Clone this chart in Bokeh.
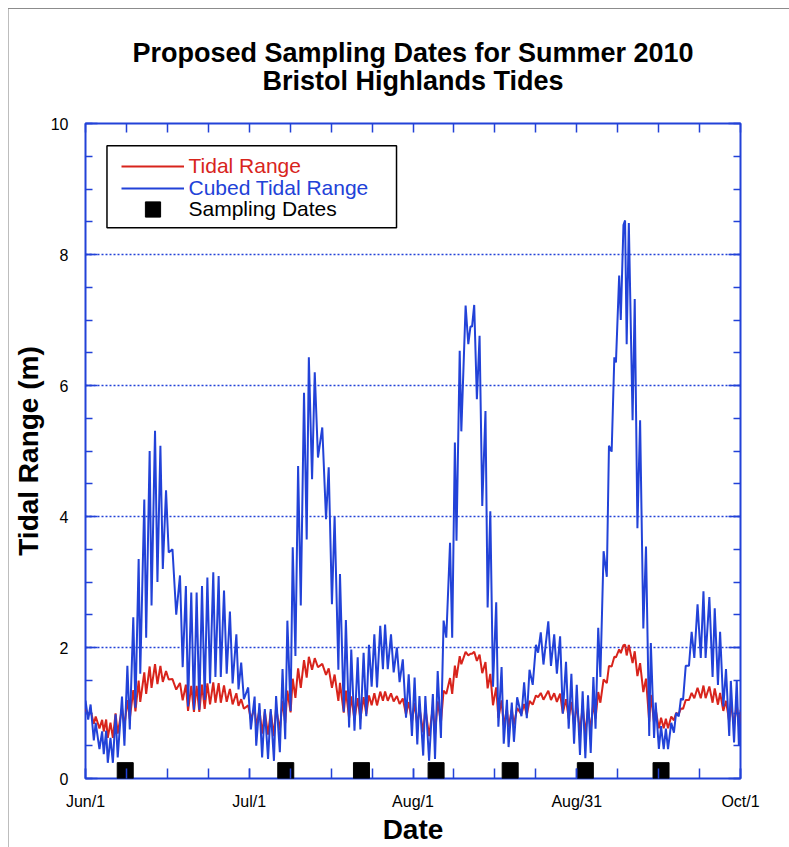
import numpy as np
from bokeh.plotting import figure
from bokeh.models import (Range1d, FixedTicker, LinearAxis, Legend, LegendItem,
                          BoxAnnotation, Title)
from bokeh.embed import file_html
from bokeh.resources import INLINE

BLUE = "#2242d8"
RED = "#d8241c"
FONT = "Liberation Sans"

# ---------------- data (days after Jun 1, 2010) ----------------
tide_day = [
    0.0, 0.5, 0.95, 1.55, 1.9, 2.6, 3.1, 3.4, 3.85, 4.15,
    4.65, 5.1, 5.6, 6.0, 6.8, 7.25, 7.8, 8.25, 8.9, 9.3,
    9.9, 10.2, 10.95, 11.3, 11.95, 12.3, 12.95, 13.4, 13.95, 14.4,
    15.0, 15.5, 16.2, 16.9, 17.6, 18.1, 18.7, 19.1, 19.7, 20.2,
    20.7, 21.2, 21.7, 22.2, 22.7, 23.2, 23.8, 24.2, 24.8, 25.2,
    25.8, 26.3, 26.9, 27.4, 28.1, 28.5, 29.0, 29.5, 30.3, 30.8,
    31.5, 31.8, 32.4, 32.9, 33.4, 34.0, 34.5, 35.1, 35.5, 36.2,
    36.7, 37.2, 37.6, 38.2, 38.6, 39.1, 39.6, 40.1, 40.7, 41.2,
    41.6, 42.2, 42.7, 43.3, 44.1, 44.8, 45.3, 45.9, 46.4, 47.1,
    47.4, 48.1, 48.5, 49.1, 49.5, 50.1, 50.7, 51.2, 51.8, 52.3,
    52.8, 53.3, 53.8, 54.3, 54.9, 55.4, 55.8, 56.3, 56.9, 57.4,
    58.0, 58.5, 59.1, 59.7, 60.2, 60.8, 61.3, 61.8, 62.2, 62.9,
    63.3, 64.0, 64.7, 65.1, 65.6, 66.2, 66.7, 67.2, 67.9, 68.3,
    68.8, 69.1, 69.7, 70.0, 70.8, 71.3, 71.7, 72.0, 72.4, 72.9,
    73.4, 73.9, 74.5, 74.9, 75.4, 75.9, 76.5, 76.9, 77.5, 77.9,
    78.5, 78.8, 79.4, 79.8, 80.4, 81.2, 81.7, 82.2, 82.7, 83.3,
    83.9, 84.3, 84.8, 85.3, 86.2, 86.7, 87.3, 87.8, 88.4, 88.9,
    89.5, 90.0, 90.5, 91.0, 91.5, 92.1, 92.6, 93.1, 93.6, 94.1,
    94.6, 95.0, 95.5, 95.9, 96.5, 97.1, 97.5, 98.0, 98.5, 98.8,
    99.4, 99.7, 100.2, 100.5, 100.8, 101.2, 101.9, 102.3, 102.8, 103.3,
    103.9, 104.4, 105.0, 105.3, 105.9, 106.2, 106.8, 107.2, 107.7, 108.1,
    108.5, 109.1, 109.6, 110.0, 110.5, 110.9, 111.3, 111.8, 112.4, 112.9,
    113.4, 114.0, 114.6, 115.1, 115.5, 116.2, 116.8, 117.2, 117.8, 118.2,
    118.8, 119.3, 119.9, 120.2, 120.8, 121.3, 121.7, 122.0,
]

cubed_range = [
    1.19, 0.90, 1.13, 0.58, 0.85, 0.45, 0.72, 0.37, 0.73, 0.24,
    0.62, 0.24, 0.98, 0.32, 1.25, 0.50, 1.72, 0.75, 2.46, 1.08,
    3.35, 1.60, 4.26, 2.15, 5.00, 2.64, 5.31, 3.00, 5.08, 3.20,
    4.40, 3.45, 3.50, 2.50, 3.10, 1.70, 2.94, 1.10, 2.84, 1.05,
    2.84, 1.05, 2.94, 1.20, 3.07, 1.45, 3.15, 1.55, 3.09, 1.55,
    2.87, 1.60, 2.55, 1.45, 2.20, 1.36, 1.77, 1.21, 1.39, 0.75,
    1.25, 0.50, 1.15, 0.32, 1.06, 0.30, 1.06, 0.27, 1.26, 0.40,
    1.67, 0.60, 2.41, 1.03, 3.53, 1.87, 4.77, 2.64, 5.89, 3.65,
    6.43, 4.57, 6.20, 4.90, 5.36, 3.96, 4.75, 2.66, 4.00, 1.66,
    3.12, 1.02, 2.42, 0.78, 1.97, 0.73, 1.85, 0.75, 1.92, 0.95,
    2.04, 1.40, 2.20, 1.39, 2.33, 1.67, 2.35, 1.67, 2.20, 1.62,
    2.00, 1.47, 1.82, 0.93, 1.59, 0.65, 1.54, 0.52, 1.26, 0.35,
    1.26, 0.27, 1.29, 0.30, 1.64, 0.62, 2.41, 2.15, 3.60, 2.15,
    5.13, 3.63, 6.53, 5.30, 7.22, 6.63, 6.90, 6.90, 7.23, 5.79,
    6.76, 4.16, 5.61, 2.61, 4.08, 1.40, 2.69, 0.79, 1.70, 0.53,
    1.20, 0.48, 1.16, 0.56, 1.24, 0.95, 1.47, 0.92, 1.66, 1.43,
    2.04, 1.92, 2.23, 1.74, 2.40, 1.72, 2.20, 1.60, 2.17, 0.99,
    1.78, 0.76, 1.60, 0.53, 1.43, 0.36, 1.33, 0.31, 1.27, 0.39,
    1.55, 0.76, 2.30, 1.55, 3.47, 3.08, 5.08, 4.99, 6.43, 6.35,
    7.68, 7.00, 8.45, 8.52, 6.63, 8.48, 5.47, 7.32, 3.82, 5.47,
    2.29, 3.54, 0.65, 2.07, 0.62, 1.16, 0.45, 0.80, 0.45, 0.76,
    0.45, 0.85, 0.70, 1.00, 0.95, 1.22, 1.20, 1.72, 1.72, 2.24,
    1.84, 2.66, 1.84, 2.86, 1.84, 2.77, 1.55, 2.60, 1.43, 2.24,
    1.10, 1.67, 0.65, 1.49, 0.55, 1.49, 0.50, 1.05,
]

tidal_range = [
    1.060, 0.965, 1.041, 0.834, 0.947, 0.766, 0.896, 0.718, 0.900, 0.621,
    0.853, 0.621, 0.993, 0.684, 1.077, 0.794, 1.198, 0.909, 1.350, 1.026,
    1.496, 1.170, 1.621, 1.291, 1.710, 1.382, 1.745, 1.442, 1.719, 1.474,
    1.639, 1.511, 1.518, 1.357, 1.458, 1.193, 1.432, 1.032, 1.416, 1.016,
    1.416, 1.016, 1.432, 1.063, 1.453, 1.132, 1.466, 1.157, 1.456, 1.157,
    1.421, 1.170, 1.366, 1.132, 1.301, 1.108, 1.210, 1.066, 1.116, 0.909,
    1.077, 0.794, 1.048, 0.684, 1.020, 0.669, 1.020, 0.646, 1.080, 0.737,
    1.186, 0.843, 1.341, 1.010, 1.523, 1.232, 1.683, 1.382, 1.806, 1.540,
    1.859, 1.659, 1.837, 1.698, 1.750, 1.582, 1.681, 1.386, 1.587, 1.184,
    1.461, 1.007, 1.342, 0.921, 1.254, 0.900, 1.228, 0.909, 1.243, 0.983,
    1.268, 1.119, 1.301, 1.116, 1.326, 1.186, 1.329, 1.186, 1.301, 1.175,
    1.260, 1.137, 1.221, 0.976, 1.167, 0.866, 1.155, 0.804, 1.080, 0.705,
    1.080, 0.646, 1.089, 0.669, 1.179, 0.853, 1.341, 1.291, 1.533, 1.291,
    1.725, 1.537, 1.869, 1.744, 1.933, 1.879, 1.904, 1.904, 1.934, 1.796,
    1.891, 1.608, 1.777, 1.377, 1.598, 1.119, 1.391, 0.924, 1.193, 0.809,
    1.063, 0.783, 1.051, 0.824, 1.074, 0.983, 1.137, 0.973, 1.184, 1.127,
    1.268, 1.243, 1.306, 1.203, 1.339, 1.198, 1.301, 1.170, 1.295, 0.997,
    1.212, 0.913, 1.170, 0.809, 1.127, 0.711, 1.100, 0.677, 1.083, 0.731,
    1.157, 0.913, 1.320, 1.157, 1.514, 1.455, 1.719, 1.709, 1.859, 1.851,
    1.973, 1.913, 2.036, 2.042, 1.879, 2.039, 1.762, 1.942, 1.563, 1.762,
    1.318, 1.524, 0.866, 1.275, 0.853, 1.051, 0.766, 0.928, 0.766, 0.913,
    0.766, 0.947, 0.888, 1.000, 0.983, 1.069, 1.063, 1.198, 1.198, 1.308,
    1.226, 1.386, 1.226, 1.419, 1.226, 1.404, 1.157, 1.375, 1.127, 1.308,
    1.032, 1.186, 0.866, 1.142, 0.819, 1.142, 0.794, 1.016,
]

sample_day = [7.4, 37.3, 51.4, 65.3, 79.1, 93.1, 107.2]
sample_level = [0.12, 0.12, 0.12, 0.12, 0.12, 0.12, 0.12]

x_major = [0, 30.5, 61, 91.5, 122]
x_labels = ["Jun/1", "Jul/1", "Aug/1", "Aug/31", "Oct/1"]
x_minor = [7.625 * k for k in range(17)]
y_major = [0, 2, 4, 6, 8, 10]
y_minor = [0.5 * k for k in range(21)]

title_lines = ["Proposed Sampling Dates for Summer 2010", "Bristol Highlands Tides"]

# ---------------- figure ----------------
p = figure(width=789, height=847, x_range=Range1d(0, 122), y_range=Range1d(0, 10),
           output_backend="svg", toolbar_location=None,
           min_border_left=85, min_border_right=49, min_border_top=123, min_border_bottom=69)
p.title = None
p.background_fill_color = "white"
p.border_fill_alpha = 0
# thin grey page edges seen at the top and left of the reference picture
p.styles = {
    "background-color": "white",
    "background-image": "linear-gradient(#8c8c8c, #8c8c8c), linear-gradient(#bdbdbd, #bdbdbd)",
    "background-size": "781px 1px, 1px 839px",
    "background-position": "8px 8px, 8px 8px",
    "background-repeat": "no-repeat",
}
p.outline_line_color = BLUE
p.outline_line_width = 2
p.outline_line_alpha = 1

# x axis (bottom)
xa = p.xaxis[0]
xa.ticker = FixedTicker(ticks=x_major, minor_ticks=x_minor)
xa.major_label_overrides = {t: l for t, l in zip(x_major, x_labels)}
xa.axis_label = "Date"

# y axis (left)
ya = p.yaxis[0]
ya.ticker = FixedTicker(ticks=y_major, minor_ticks=y_minor)
ya.axis_label = "Tidal Range (m)"

top = LinearAxis(ticker=FixedTicker(ticks=x_minor, minor_ticks=[]),
                 major_label_overrides={t: "" for t in x_minor})
right = LinearAxis(ticker=FixedTicker(ticks=y_major, minor_ticks=y_minor),
                   major_label_overrides={t: "" for t in y_major})
p.add_layout(top, "above")
p.add_layout(right, "right")

for ax in [xa, ya, top, right]:
    ax.axis_line_color = None
    ax.major_tick_line_color = BLUE
    ax.minor_tick_line_color = BLUE
    ax.major_tick_line_width = 1.5
    ax.minor_tick_line_width = 1.5
    ax.major_tick_out = 0
    ax.minor_tick_out = 0
    ax.major_label_text_font = FONT
    ax.major_label_text_font_size = "16px"
    ax.major_label_text_color = "black"
    ax.axis_label_text_font = FONT
    ax.axis_label_text_font_style = "bold"
    ax.axis_label_text_font_size = "28px"
    ax.axis_label_text_color = "black"

xa.major_tick_in = 10
xa.minor_tick_in = 10
xa.major_label_standoff = 14
xa.axis_label_standoff = 1
ya.major_tick_in = 12
ya.minor_tick_in = 7
ya.major_label_standoff = 17
ya.axis_label_standoff = 4
top.major_tick_in = 9
top.major_label_standoff = 0
right.major_tick_in = 12
right.minor_tick_in = 7
right.major_label_standoff = 0

# second title line carried by the top axis (centred over the frame),
# first title line as a Title above it
top.axis_label = title_lines[1]
top.axis_label_text_font_size = "27px"
top.axis_label_standoff = 28
t1 = Title(text=title_lines[0], align="center", text_font_size="27px", text_font=FONT,
           text_font_style="bold", text_color="black", standoff=-10)
p.add_layout(t1, "above")

p.xgrid.visible = False
p.ygrid.ticker = FixedTicker(ticks=[2, 4, 6, 8])
p.ygrid.grid_line_color = BLUE
p.ygrid.grid_line_dash = "2 2"
p.ygrid.grid_line_width = 1.5

# ---------------- data marks ----------------
red_r = p.line(tide_day, tidal_range, line_color=RED, line_width=2)
blue_r = p.line(tide_day, cubed_range, line_color=BLUE, line_width=2)
sq_r = p.scatter(sample_day, sample_level, marker="square", size=16,
                 fill_color="black", line_color="black")

# ---------------- legend ----------------
box = BoxAnnotation(left=4.0, right=57.93, bottom=8.41, top=9.66,
                    fill_color="white", fill_alpha=1.0,
                    line_color="black", line_width=1.5, line_alpha=1.0)
p.add_layout(box)

entries = [
    (red_r, "Tidal Range", RED, (35.5, 600), 22),
    (blue_r, "Cubed Tidal Range", BLUE, (35.5, 578), 22),
    (sq_r, "Sampling Dates", "black", (35.5, 550), 38),
]
for rend, lbl, col, loc, gh in entries:
    lg = Legend(items=[LegendItem(label=lbl, renderers=[rend])], location=loc,
                border_line_color=None, background_fill_alpha=0, padding=0, margin=0,
                spacing=0, glyph_width=63, glyph_height=gh, label_height=gh,
                label_standoff=5, label_text_font=FONT, label_text_font_size="21px",
                label_text_color=col)
    p.add_layout(lg, "center")

open("out.html", "w").write(file_html(p, INLINE))
